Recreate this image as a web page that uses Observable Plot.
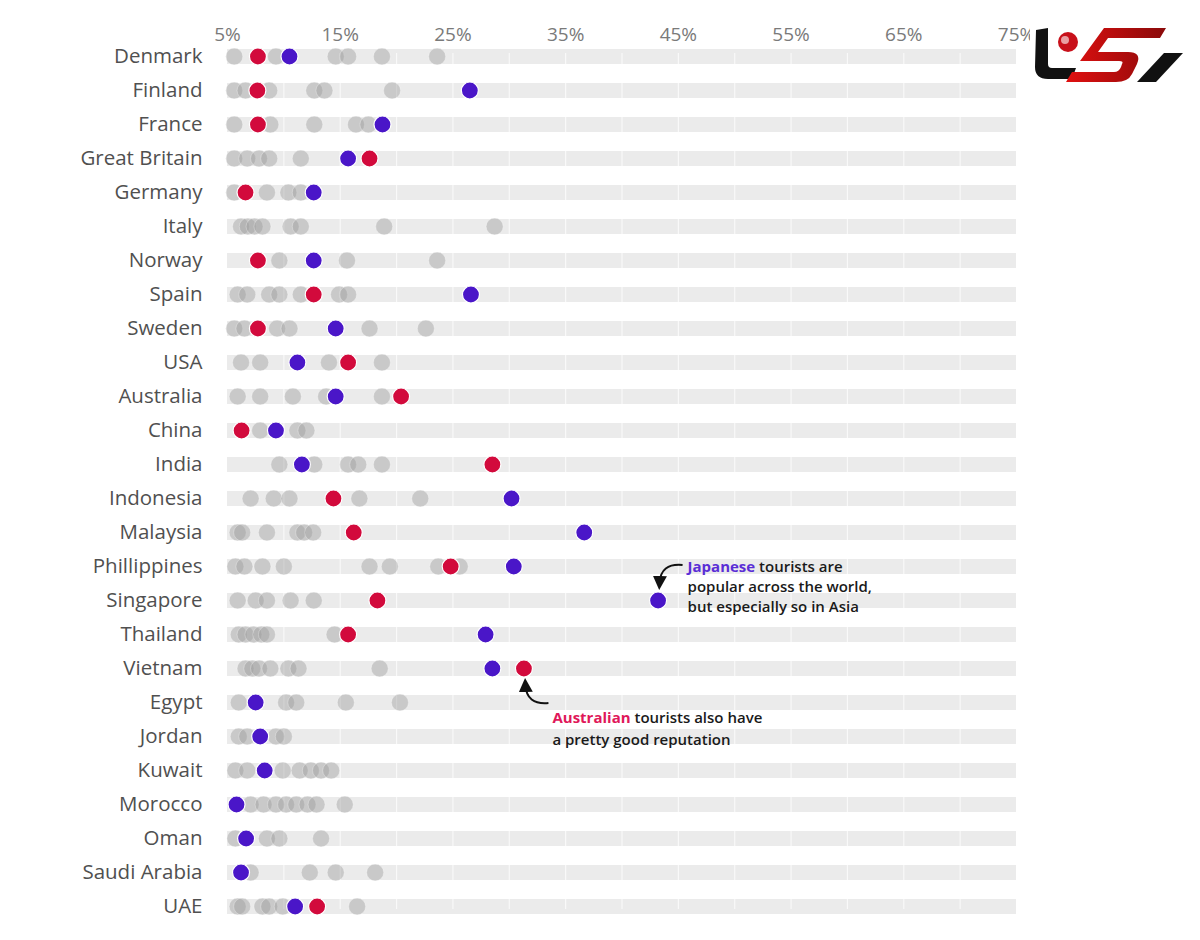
<!DOCTYPE html>
<html>
<head>
<meta charset="utf-8">
<script src="https://cdn.jsdelivr.net/npm/d3@7"></script>
<script src="https://cdn.jsdelivr.net/npm/@observablehq/plot@0.6"></script>
<style>
  html, body { margin: 0; padding: 0; background: #fff; }
  #wrap { position: relative; width: 1200px; height: 940px; overflow: hidden; }
  #logo { position: absolute; left: 0; top: 0; pointer-events: none; }
</style>
</head>
<body>
<div id="wrap"></div>
<script>
// ---------- data ----------
const countries = ["Denmark","Finland","France","Great Britain","Germany","Italy","Norway","Spain","Sweden","USA","Australia","China","India","Indonesia","Malaysia","Phillippines","Singapore","Thailand","Vietnam","Egypt","Jordan","Kuwait","Morocco","Oman","Saudi Arabia","UAE"];

// other nationalities (grey dots), % per country
const otherValues = [
  [5.6, 9.3, 14.6, 15.7, 18.7, 23.6],
  [5.6, 6.6, 8.7, 12.7, 13.6, 19.6],
  [5.6, 8.8, 12.7, 16.4, 17.5],
  [5.6, 6.75, 7.8, 8.7, 11.5],
  [5.6, 8.5, 10.4, 11.5],
  [6.2, 6.8, 7.4, 8.1, 10.6, 11.5, 18.9, 28.7],
  [9.6, 15.6, 23.6],
  [5.9, 6.75, 8.7, 9.6, 11.5, 14.9, 15.7],
  [5.6, 6.5, 9.4, 10.5, 17.6, 22.6],
  [6.2, 7.9, 14.0, 18.7],
  [5.9, 7.9, 10.8, 13.75, 18.7],
  [7.9, 11.2, 12.0],
  [9.6, 12.7, 15.7, 16.6, 18.7],
  [7.05, 9.1, 10.5, 16.7, 22.1],
  [5.9, 6.3, 8.5, 11.2, 11.8, 12.6],
  [5.7, 6.5, 8.1, 10.0, 17.6, 19.4, 23.7, 25.6],
  [5.9, 7.5, 8.5, 10.6, 12.65],
  [6.0, 6.6, 7.3, 8.0, 8.5, 14.5],
  [6.6, 7.2, 7.8, 8.8, 10.4, 11.3, 18.5],
  [6.0, 10.2, 11.1, 15.5, 20.3],
  [6.0, 6.75, 9.3, 10.0],
  [5.7, 6.75, 9.9, 11.4, 12.4, 13.3, 14.2],
  [7.05, 8.2, 9.3, 10.2, 11.1, 12.1, 12.9, 15.4],
  [5.7, 8.5, 9.6, 13.3],
  [7.05, 12.3, 14.6, 18.1],
  [5.9, 6.3, 8.1, 8.7, 9.9, 16.5]
];

// Japanese tourists (blue)
const japanValues = [10.5, 26.5, 18.75, 15.7, 12.65, null, 12.65, 26.6, 14.6, 11.2, 14.6, 9.3, 11.6, 30.2, 36.65, 30.4, 43.2, 27.9, 28.5, 7.5, 7.9, 8.3, 5.8, 6.65, 6.2, 11.0];

// Australian tourists (red)
const australiaValues = [7.7, 7.65, 7.7, 17.6, 6.6, null, 7.7, 12.65, 7.7, 15.7, 20.4, 6.25, 28.5, 14.4, 16.2, 24.8, 18.3, 15.7, 31.3, null, null, null, null, null, null, 12.95];

const xDomain = [5, 75];
const xTickValues = [5, 15, 25, 35, 45, 55, 65, 75];
const gridValues = [10, 15, 20, 25, 30, 35, 40, 45, 50, 55, 60, 65, 70];

const japanAnnotation = {country: "Singapore", lead: "Japanese", lines: [" tourists are", "popular across the world,", "but especially so in Asia"]};
const australiaAnnotation = {country: "Vietnam", lead: "Australian", lines: [" tourists also have", "a pretty good reputation"]};

// ---------- tables ----------
const otherData = countries.flatMap((c, i) => otherValues[i].map(v => ({country: c, value: v})));
const japanData = countries.map((c, i) => ({country: c, value: japanValues[i]})).filter(d => d.value != null);
const ausData = countries.map((c, i) => ({country: c, value: australiaValues[i]})).filter(d => d.value != null);

const BLUE = "#4a16c8";
const RED = "#d20a3c";
const FONT = "'Open Sans', Lato, sans-serif";

const plot = Plot.plot({
  width: 1200,
  height: 940,
  marginLeft: 227,
  marginRight: 184,
  marginTop: 53,
  marginBottom: 31,
  style: {fontFamily: FONT, background: "transparent", overflow: "visible"},
  x: {domain: xDomain, label: null},
  y: {type: "point", domain: countries, padding: 0, label: null},
  marks: [
    Plot.ruleY(countries, {y: d => d, x1: xDomain[0], x2: xDomain[1], stroke: "#ebebeb", strokeWidth: 15}),
    Plot.ruleX(gridValues, {x: d => d, stroke: "#ffffff", strokeWidth: 1.2, strokeOpacity: 0.7}),
    Plot.dot(otherData, {x: "value", y: "country", r: 8.5, fill: "#9a9a9a", fillOpacity: 0.42, stroke: "#ffffff", strokeWidth: 0.6, strokeOpacity: 0.5}),
    Plot.dot(japanData, {x: "value", y: "country", r: 8.5, fill: BLUE, stroke: "#ffffff", strokeWidth: 1.2}),
    Plot.dot(ausData, {x: "value", y: "country", r: 8.5, fill: RED, stroke: "#ffffff", strokeWidth: 1.2}),
    Plot.axisX({anchor: "top", ticks: xTickValues, tickFormat: d => d + "%", tickSize: 0, tickPadding: 13, fontSize: 19, fill: "#7a7a7a", label: null}),
    Plot.axisY({anchor: "left", tickSize: 0, tickPadding: 25, fontSize: 20.5, fill: "#505050", label: null})
  ]
});

document.getElementById("wrap").appendChild(plot);

// ---------- annotations (positioned via the plot's own scales) ----------
const sx = plot.scale("x");
const sy = plot.scale("y");
const svg = d3.select(plot);

svg.append("defs").append("marker")
  .attr("id", "arrowhead")
  .attr("viewBox", "0 0 10 10")
  .attr("refX", 5).attr("refY", 5)
  .attr("markerWidth", 7).attr("markerHeight", 7)
  .attr("orient", "auto-start-reverse")
  .append("path").attr("d", "M0,0 L10,5 L0,10 Z").attr("fill", "#111");

function dotPos(country, values) {
  const i = countries.indexOf(country);
  return [sx.apply(values[i]), sy.apply(country) + (sy.bandwidth || 0) / 2];
}

function annotate(ann, values, color, below) {
  const [cx, cy] = dotPos(ann.country, values);
  const g = svg.append("g").attr("font-family", FONT).attr("font-size", 15).attr("font-weight", 600)
    .attr("fill", "#1a1a1a").attr("text-anchor", "start");
  const tx = cx + (below ? 29 : 30);
  const ty0 = below ? cy + 50 : cy - 33;
  const lh = below ? 22 : 20;
  const t = g.append("text").attr("x", tx).attr("y", ty0).attr("dy", "0.35em");
  t.append("tspan").attr("fill", color).attr("font-weight", 700).text(ann.lead);
  t.append("tspan").text(ann.lines[0]);
  ann.lines.slice(1).forEach((line, k) => {
    g.append("text").attr("x", tx).attr("y", ty0 + lh * (k + 1)).attr("dy", "0.35em").text(line);
  });
  const sgn = below ? 1 : -1;
  const sxp = cx + 25, syp = cy + sgn * 35;
  const ex = cx + 2, ey = cy + sgn * 17;
  svg.append("path")
    .attr("d", `M${sxp},${syp} Q${cx + 3},${cy + sgn * 37} ${ex},${ey}`)
    .attr("fill", "none").attr("stroke", "#111").attr("stroke-width", 2)
    .attr("marker-end", "url(#arrowhead)");
}

annotate(japanAnnotation, japanValues, "#5a2ed6", false);
annotate(australiaAnnotation, australiaValues, "#e0185a", true);

// ---------- logo watermark (decoration) ----------
const lg = d3.select("#wrap").append("svg").attr("id", "logo").attr("width", 1200).attr("height", 940);
const grad = lg.append("defs").append("linearGradient").attr("id", "redgrad").attr("x1", "0").attr("x2", "1");
grad.append("stop").attr("offset", "0%").attr("stop-color", "#e01010");
grad.append("stop").attr("offset", "100%").attr("stop-color", "#8a0a0a");
lg.append("rect").attr("x", 1030).attr("y", 18).attr("width", 170).attr("height", 72).attr("fill", "#fff");
lg.append("path").attr("d", "M1036,30 L1048,28 L1048,64 Q1048,68 1052,68 L1076,68 L1072,79 L1048,79 Q1035,79 1035,67 Z").attr("fill", "#111");
lg.append("circle").attr("cx", 1068).attr("cy", 42).attr("r", 10).attr("fill", "#c8101a");
lg.append("circle").attr("cx", 1065).attr("cy", 40).attr("r", 4).attr("fill", "#fff").attr("opacity", 0.6);
lg.append("path").attr("d", "M1104,28 L1166,28 L1160,38 L1108,38 L1098,52 L1128,52 Q1142,52 1137,64 L1132,74 Q1128,82 1116,82 L1066,82 L1072,72 L1114,72 Q1119,72 1121,67 L1122,64 Q1124,61 1119,61 L1080,61 Z").attr("fill", "url(#redgrad)");
lg.append("path").attr("d", "M1164,53 L1183,53 L1156,82 L1137,82 Z").attr("fill", "#111");
</script>
</body>
</html>
